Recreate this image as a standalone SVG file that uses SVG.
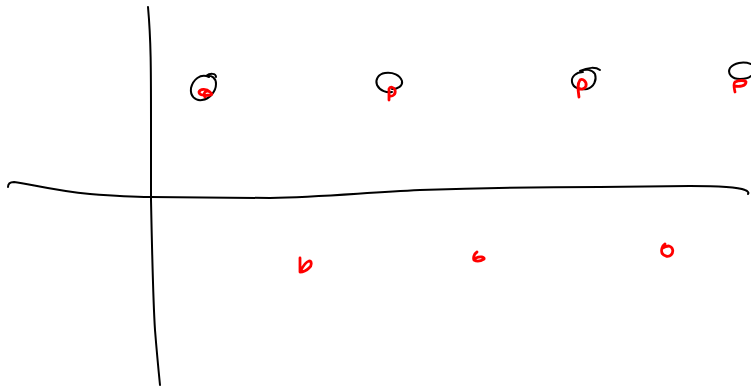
<svg xmlns="http://www.w3.org/2000/svg" width="751" height="387" viewBox="0 0 751 387">
<style>
.k{fill:none;stroke:#000;stroke-width:2;stroke-linecap:round;stroke-linejoin:round}
.r{fill:none;stroke:#f00;stroke-width:2.8;stroke-linecap:round;stroke-linejoin:round}
</style>
<rect width="751" height="387" fill="#fff"/>
<g id="axes">
<path class="k" d="M148 7 C151 40 151 70 151 120 L151 200 C152 250 153 300 155 330 C157 355 159 375 160 385"/>
<path class="k" d="M8 187 C8 183 10 182 14 182 C30 184 55 191 90 194 C115 196 135 197 150 197 L270 198 C320 197 360 193 420 190 C480 188 540 187 600 187 L690 186 C720 186 740 188 745 190 C748 191 749 193 748 194"/>
</g>
<g id="mark1">
<path class="k" d="M209 77 C200 73 193 80 191 88 C190 96 195 101 202 100 C210 99 216 91 216 84 C216 78 212 75 206 76 C210 73 216 73 216 77"/>
<path class="r" d="M210 92 C206 88 200 89 199 92 C199 95 204 96 210 95 C213 95 212 92 207 91 C204 92 203 95 205 97"/>
</g>
<g id="mark2">
<path class="k" d="M392 89 C398 89 403 86 402 81 C400 75 393 72 385 73 C378 74 375 80 377 85 C380 91 387 93 392 92"/>
<path class="r" d="M389 100 L389 89 C390 86 394 87 395 90 C396 94 393 97 389 96"/>
</g>
<g id="mark3">
<path class="k" d="M583 72 C576 72 571 77 572 82 C573 88 580 90 587 89 C594 87 597 80 595 74 C592 69 585 69 580 71 C588 67 596 67 600 70"/>
<path class="r" d="M579 97 C578 90 577 84 580 80 C583 78 587 82 586 86 C585 89 581 90 578 88"/>
</g>
<g id="mark4">
<path class="k" d="M751 64 C743 61 734 63 730 68 C727 74 732 79 740 79 C745 79 749 78 751 76"/>
<path class="r" d="M735 92 C734 88 733 84 735 82 C739 80 745 80 746 82 C746 86 740 87 734 86"/>
</g>
<g id="mark5">
<path class="r" d="M300 258 L300 272 C302 268 305 262 309 261 C312 261 312 266 309 268 C306 271 302 272 300 272"/>
</g>
<g id="mark6">
<path class="r" d="M477 252 C474 254 473 258 474 260 C477 262 481 261 484 259 C485 257 480 256 476 258"/>
</g>
<g id="mark7">
<path class="r" d="M665 244 C662 246 661 250 662 253 C664 257 669 257 671 255 C674 252 673 247 669 246 C666 246 664 247 663 248"/>
</g>
</svg>
